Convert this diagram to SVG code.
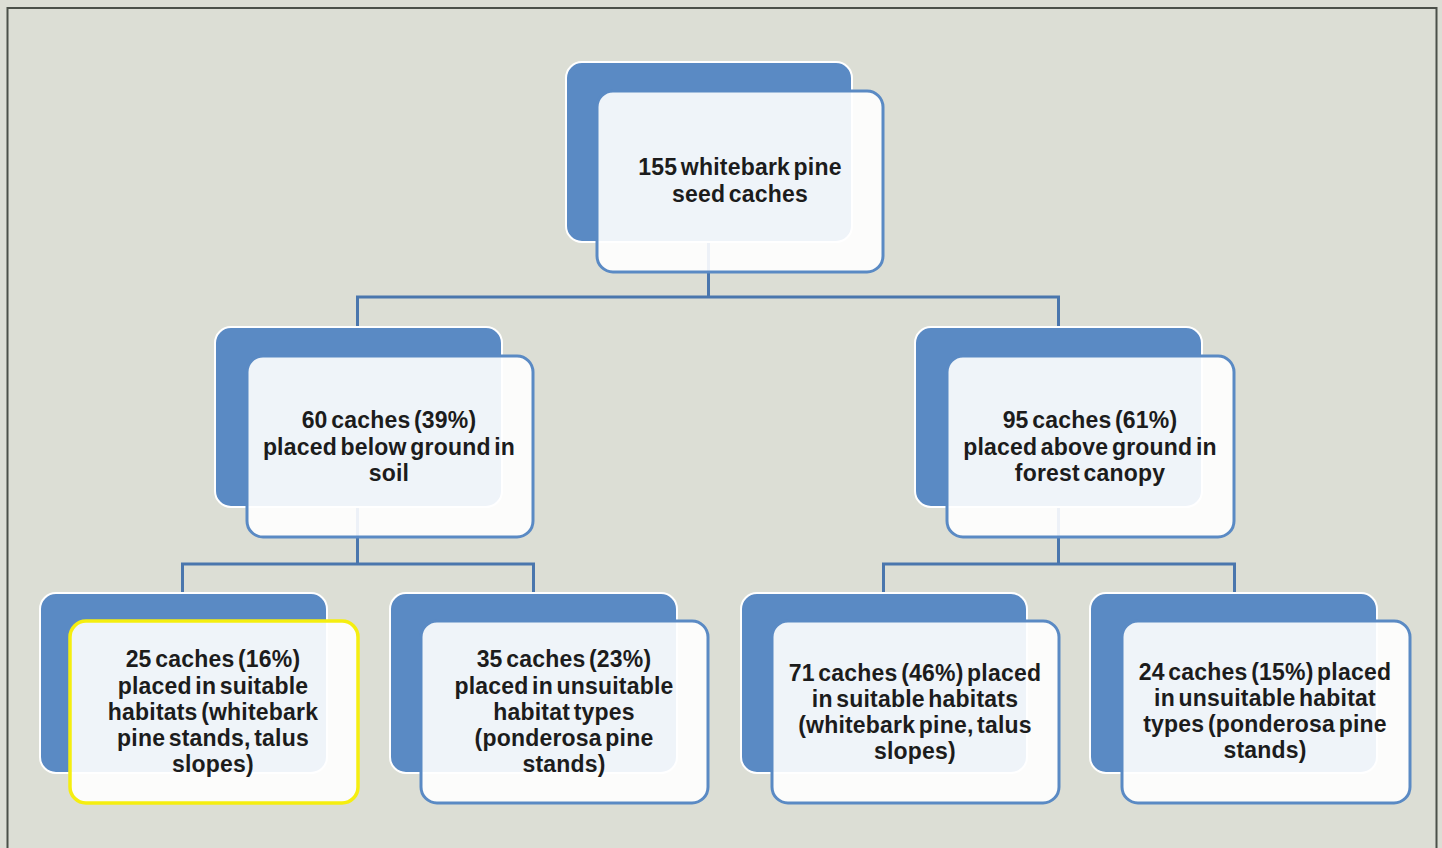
<svg xmlns="http://www.w3.org/2000/svg" width="1442" height="848" viewBox="0 0 1442 848">
<style>
.bg{fill:#dcded5}
.frame{fill:none;stroke:#4b5049;stroke-width:2}
.back{fill:#5a8ac4;stroke:#ffffff;stroke-width:2}
.front{fill:#ffffff;fill-opacity:0.9;stroke:#5a8ac4;stroke-width:3}
.hl{stroke:#f5ee10;stroke-width:3.5}
.conn{fill:none;stroke:#4a76ad;stroke-width:3}
text{font-family:"Liberation Sans",Arial,sans-serif;font-weight:bold;font-size:23px;fill:#1c1c1c;text-anchor:middle;letter-spacing:0.2px;word-spacing:-3px}
</style>
<rect class="bg" x="0" y="0" width="1442" height="848"/>
<rect class="frame" x="7.5" y="8" width="1429" height="860"/>
<g id="connectors">
<path class="conn" d="M708.5 242 V297 M357.5 328 V297 H1058.5 V328"/>
<path class="conn" d="M357.5 507 V564 M182.5 594 V564 H533.5 V594"/>
<path class="conn" d="M1058.5 507 V564 M883.5 594 V564 H1234.5 V594"/>
</g>
<g id="n0">
<rect class="back" x="566" y="62" width="286" height="180" rx="16"/>
<rect class="front" x="597" y="91" width="286" height="181" rx="16"/>
<text x="740" y="175">155 whitebark pine</text>
<text x="740" y="202">seed caches</text>
</g>
<g id="n1">
<rect class="back" x="215" y="327" width="287" height="180" rx="16"/>
<rect class="front" x="247" y="356" width="286" height="181" rx="16"/>
<text x="389" y="428">60 caches (39%)</text>
<text x="389" y="455">placed below ground in</text>
<text x="389" y="481">soil</text>
</g>
<g id="n2">
<rect class="back" x="915" y="327" width="287" height="180" rx="16"/>
<rect class="front" x="947" y="356" width="287" height="181" rx="16"/>
<text x="1090" y="428">95 caches (61%)</text>
<text x="1090" y="455">placed above ground in</text>
<text x="1090" y="481">forest canopy</text>
</g>
<g id="n3">
<rect class="back" x="40" y="593" width="287" height="180" rx="16"/>
<rect class="front hl" x="70" y="621" width="288" height="182" rx="16"/>
<text x="213" y="667">25 caches (16%)</text>
<text x="213" y="694">placed in suitable</text>
<text x="213" y="720">habitats (whitebark</text>
<text x="213" y="746">pine stands, talus</text>
<text x="213" y="772">slopes)</text>
</g>
<g id="n4">
<rect class="back" x="390" y="593" width="287" height="180" rx="16"/>
<rect class="front" x="421" y="621" width="287" height="182" rx="16"/>
<text x="564" y="667">35 caches (23%)</text>
<text x="564" y="694">placed in unsuitable</text>
<text x="564" y="720">habitat types</text>
<text x="564" y="746">(ponderosa pine</text>
<text x="564" y="772">stands)</text>
</g>
<g id="n5">
<rect class="back" x="741" y="593" width="286" height="180" rx="16"/>
<rect class="front" x="772" y="621" width="287" height="182" rx="16"/>
<text x="915" y="681">71 caches (46%) placed</text>
<text x="915" y="707">in suitable habitats</text>
<text x="915" y="733">(whitebark pine, talus</text>
<text x="915" y="759">slopes)</text>
</g>
<g id="n6">
<rect class="back" x="1090" y="593" width="287" height="180" rx="16"/>
<rect class="front" x="1122" y="621" width="288" height="182" rx="16"/>
<text x="1265" y="680">24 caches (15%) placed</text>
<text x="1265" y="706">in unsuitable habitat</text>
<text x="1265" y="732">types (ponderosa pine</text>
<text x="1265" y="758">stands)</text>
</g>
</svg>
